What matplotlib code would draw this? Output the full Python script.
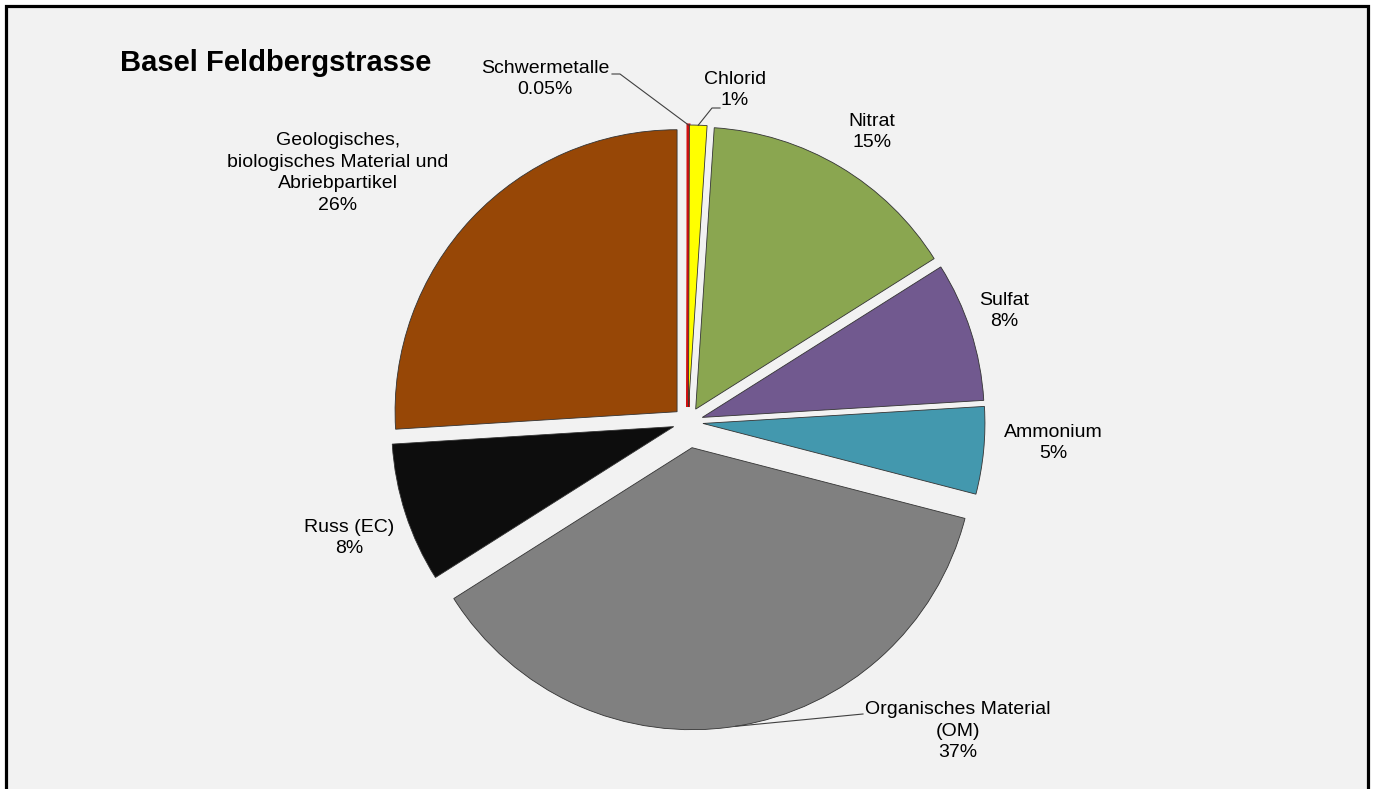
import numpy as np
import matplotlib.pyplot as plt
from matplotlib.patches import Rectangle

plt.rcParams['font.family'] = ['Liberation Sans', 'DejaVu Sans']

# data
labels = ['Schwermetalle', 'Chlorid', 'Nitrat', 'Sulfat', 'Ammonium',
          'Organisches Material\n(OM)', 'Russ (EC)',
          'Geologisches,\nbiologisches Material und\nAbriebpartikel']
values = [0.05, 1, 15, 8, 5, 37, 8, 26]
pct_text = ['0.05%', '1%', '15%', '8%', '5%', '37%', '8%', '26%']
colors = ['#e3211c', '#ffff00', '#8aa650', '#71598f', '#4398ae',
          '#808080', '#0d0d0d', '#974706']

# layout (pixels, image coords)
W, H = 1374, 789
R = 282
explode = [15, 15, 15, 15, 15, 26, 15, 15]   # offset in px
label_pos = [(545, 79), (735, 90), (872, 132), (1004, 311), (1053, 443),
             (958, 731), (349, 538), (338, 173)]

fig = plt.figure(figsize=(W / 100, H / 100), dpi=100, facecolor='white')
fig.patches.append(Rectangle((6 / W, -0.1), (1362 / W), 1.1 - 6 / H,
                             transform=fig.transFigure, facecolor='#f2f2f2',
                             edgecolor='black', linewidth=2.3, zorder=-10))

ax = fig.add_axes([0, 0, 1, 1])

wedges, _ = ax.pie(values, colors=colors, explode=explode, startangle=90,
                   counterclock=False, radius=R, center=(688, H - 422),
                   wedgeprops=dict(edgecolor='#333333', linewidth=0.6),
                   frame=True)
ax.set_xlim(0, W)
ax.set_ylim(0, H)
ax.set_aspect('equal')
ax.axis('off')

# the tiny slice is drawn a little wider so it stays visible
wedges[0].set_edgecolor('#d01010')
wedges[0].set_linewidth(2.2)

for i, w in enumerate(wedges):
    x, y = label_pos[i]
    ax.text(x, H - y, labels[i] + '\n' + pct_text[i], ha='center', va='center',
            fontsize=14, linespacing=1.35)

# leader lines
def edge_point(w):
    mid = np.deg2rad((w.theta1 + w.theta2) / 2)
    return w.center[0] + w.r * np.cos(mid), w.center[1] + w.r * np.sin(mid)

ex, ey = edge_point(wedges[0])
ax.plot([ex, 620, 612], [ey, H - 74, H - 74], color='#404040', lw=0.8)
ex, ey = edge_point(wedges[1])
ax.plot([ex, 712, 720], [ey, H - 108, H - 108], color='#404040', lw=0.8)
ex, ey = edge_point(wedges[5])
ax.plot([ex, 863], [ey, H - 714], color='#404040', lw=0.8)

ax.text(120, H - 63, 'Basel Feldbergstrasse', ha='left', va='center',
        fontsize=21, fontweight='bold')

fig.savefig('out.png', dpi=100, facecolor=fig.get_facecolor())
